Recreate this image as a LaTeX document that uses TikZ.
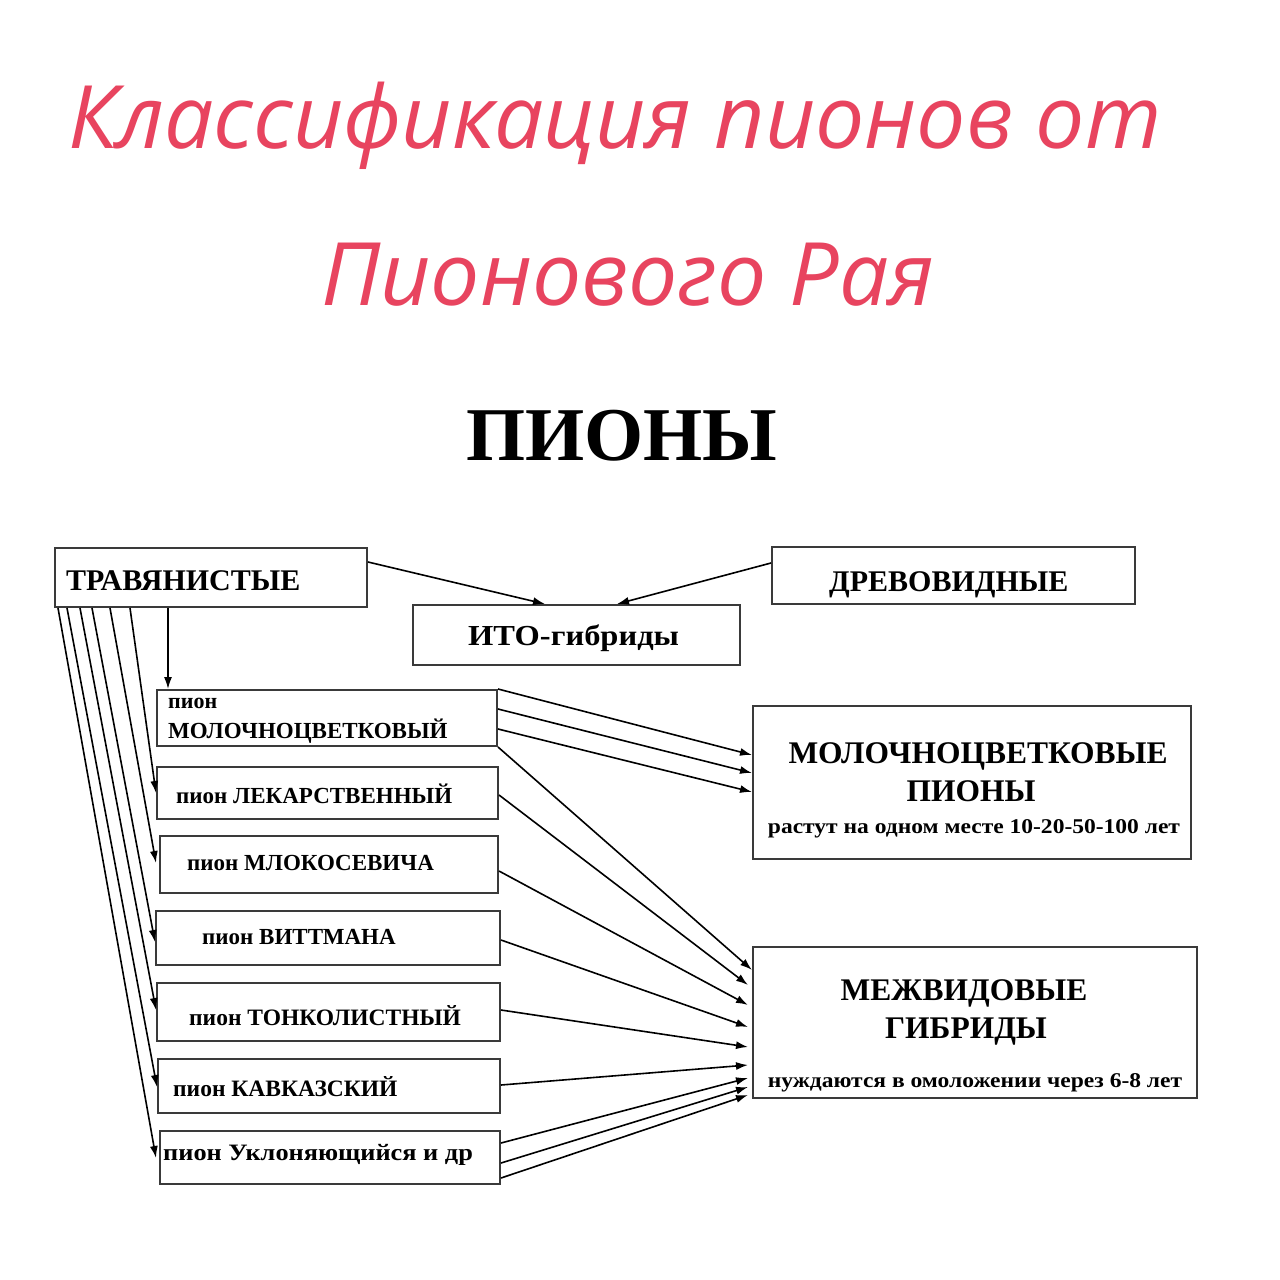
\documentclass[tikz,border=0pt]{standalone}
\usepackage{fontspec}
\setmainfont{Liberation Serif}
\newfontfamily\handfont{Open Sans}
\newfontfamily\wideserif[FakeStretch=1.12]{Liberation Serif}
\usetikzlibrary{calc,arrows.meta}
\definecolor{titlepink}{HTML}{E8445F}
\definecolor{boxline}{HTML}{3A3A3A}
\tikzset{
  box/.style={draw=boxline, line width=2pt, fill=white, inner sep=0pt, anchor=north west},
  lbl/.style={inner sep=0pt, anchor=base west, font=\bfseries},
  clbl/.style={inner sep=0pt, anchor=base, font=\bfseries},
  arr/.style={-{Latex[length=12pt,width=8pt]}, line width=1.6pt, black},
}
\begin{document}
\begin{tikzpicture}[x=1pt,y=-1pt]
\useasboundingbox (0,0) rectangle (1280,1280);
\fill[white] (0,0) rectangle (1280,1280);

% title
\node[inner sep=0pt, anchor=base, text=titlepink, font=\handfont\itshape\fontsize{87.5}{100}\selectfont] (t1) at (615,148) {Классификация пионов от};
\node[inner sep=0pt, anchor=base, text=titlepink, font=\handfont\itshape\fontsize{87.5}{100}\selectfont] (t2) at (628,305) {Пионового Рая};

% heading
\node[inner sep=0pt, anchor=base, font=\bfseries\fontsize{76}{90}\selectfont] (head) at (622,460) {ПИОНЫ};

% boxes
\node[box, minimum width=312, minimum height=59] (tr) at (54,547) {};
\node[box, minimum width=327, minimum height=60] (ito) at (412,604) {};
\node[box, minimum width=363, minimum height=57] (dr) at (771,546) {};
\node[box, minimum width=340, minimum height=56] (mol) at (156,689) {};
\node[box, minimum width=341, minimum height=52] (lek) at (156,766) {};
\node[box, minimum width=338, minimum height=57] (mlk) at (159,835) {};
\node[box, minimum width=344, minimum height=54] (vit) at (155,910) {};
\node[box, minimum width=343, minimum height=58] (ton) at (156,982) {};
\node[box, minimum width=342, minimum height=54] (kav) at (157,1058) {};
\node[box, minimum width=340, minimum height=53] (ukl) at (159,1130) {};
\node[box, minimum width=438, minimum height=153] (mp) at (752,705) {};
\node[box, minimum width=444, minimum height=151] (mg) at (752,946) {};

% texts
\node[lbl, font=\bfseries\fontsize{30}{30}\selectfont] (trt) at (66,590) {ТРАВЯНИСТЫЕ};
\node[lbl, font=\wideserif\bfseries\fontsize{29}{30}\selectfont] (itot) at (468,645) {ИТО-гибриды};
\node[lbl, font=\bfseries\fontsize{30}{30}\selectfont] (drt) at (829,591) {ДРЕВОВИДНЫЕ};
\node[lbl, font=\bfseries\fontsize{22}{24}\selectfont] (molt1) at (168,708) {пион};
\node[lbl, font=\bfseries\fontsize{23}{24}\selectfont] (molt2) at (168,738) {МОЛОЧНОЦВЕТКОВЫЙ};
\node[lbl, font=\bfseries\fontsize{23}{24}\selectfont] (lekt) at (176,803) {пион ЛЕКАРСТВЕННЫЙ};
\node[lbl, font=\bfseries\fontsize{23}{24}\selectfont] (mlkt) at (187,870) {пион МЛОКОСЕВИЧА};
\node[lbl, font=\bfseries\fontsize{23}{24}\selectfont] (vitt) at (202,944) {пион ВИТТМАНА};
\node[lbl, font=\bfseries\fontsize{23.5}{24}\selectfont] (tont) at (189,1025) {пион ТОНКОЛИСТНЫЙ};
\node[lbl, font=\bfseries\fontsize{23.5}{24}\selectfont] (kavt) at (173,1096) {пион КАВКАЗСКИЙ};
\node[lbl, font=\wideserif\bfseries\fontsize{23.5}{24}\selectfont] (uklt) at (163,1160) {пион Уклоняющийся и др};
\node[clbl, font=\bfseries\fontsize{31.5}{32}\selectfont] (mpt1) at (978,763) {МОЛОЧНОЦВЕТКОВЫЕ};
\node[clbl, font=\bfseries\fontsize{31.5}{32}\selectfont] (mpt2) at (971,801) {ПИОНЫ};
\node[clbl, font=\wideserif\bfseries\fontsize{21}{22}\selectfont] (mpt3) at (974,833) {растут на одном месте 10-20-50-100 лет};
\node[clbl, font=\bfseries\fontsize{31.5}{32}\selectfont] (mgt1) at (964,1000) {МЕЖВИДОВЫЕ};
\node[clbl, font=\bfseries\fontsize{31.5}{32}\selectfont] (mgt2) at (966,1038) {ГИБРИДЫ};
\node[clbl, font=\wideserif\bfseries\fontsize{21}{22}\selectfont] (mgt3) at (975,1087) {нуждаются в омоложении через 6-8 лет};

% top connectors
\draw[arr] ($(tr.north east)+(0,15)$) -- ($(ito.north west)+(133,0)$);
\draw[arr] ($(dr.north west)+(0,17)$) -- ($(ito.north west)+(205,0)$);
\draw[arr] ($(tr.south west)+(114,0)$) -- ($(mol.north west)+(12,0)$);

% left fan
\draw[arr] ($(tr.south west)+(76,0)$) -- ($(lek.north west)+(0,27)$);
\draw[arr] ($(tr.south west)+(56,0)$) -- ($(mlk.north west)+(-3,28)$);
\draw[arr] ($(tr.south west)+(38,0)$) -- ($(vit.north west)+(0,32)$);
\draw[arr] ($(tr.south west)+(26,0)$) -- ($(ton.north west)+(0,28)$);
\draw[arr] ($(tr.south west)+(13,0)$) -- ($(kav.north west)+(0,29)$);
\draw[arr] ($(tr.south west)+(4,0)$) -- ($(ukl.north west)+(-3,28)$);

% right fan
\draw[arr] (mol.north east) -- ($(mp.north west)+(0,50)$);
\draw[arr] ($(mol.north east)+(0,20)$) -- ($(mp.north west)+(0,68)$);
\draw[arr] ($(mol.north east)+(0,40)$) -- ($(mp.north west)+(0,87)$);
\draw[arr] (mol.south east) -- ($(mg.north west)+(0,24)$);
\draw[arr] ($(lek.north east)+(0,29)$) -- ($(mg.north west)+(-4,39)$);
\draw[arr] ($(mlk.north east)+(0,36)$) -- ($(mg.north west)+(-4,59)$);
\draw[arr] ($(vit.north east)+(0,30)$) -- ($(mg.north west)+(-4,81)$);
\draw[arr] ($(ton.north east)+(0,28)$) -- ($(mg.north west)+(-4,101)$);
\draw[arr] ($(kav.north east)+(0,27)$) -- ($(mg.north west)+(-4,119)$);
\draw[arr] ($(ukl.north east)+(0,13)$) -- ($(mg.north west)+(-4,132)$);
\draw[arr] ($(ukl.north east)+(0,33)$) -- ($(mg.north west)+(-4,141)$);
\draw[arr] ($(ukl.north east)+(0,48)$) -- ($(mg.north west)+(-4,149)$);
\end{tikzpicture}
\end{document}
